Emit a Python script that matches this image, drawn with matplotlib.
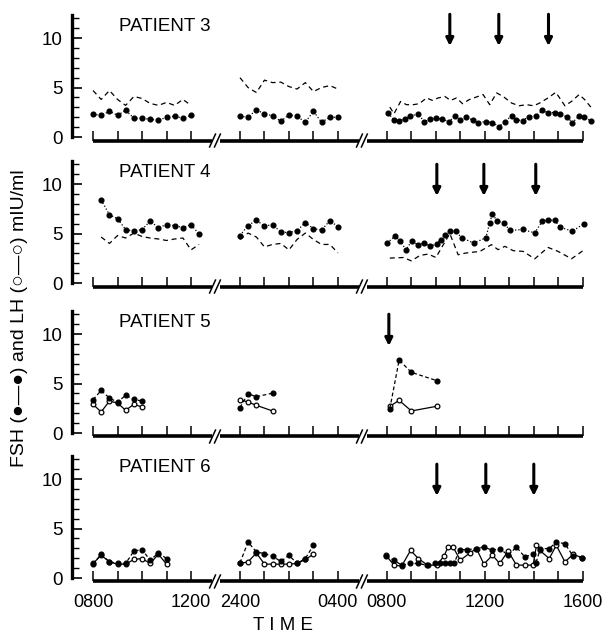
import matplotlib
matplotlib.use("Agg")
import matplotlib.pyplot as plt
from matplotlib.ticker import FixedLocator

plt.rcParams['font.family'] = ['Liberation Sans', 'DejaVu Sans']

# sampling times are clock hours: segment 1 = morning, segment 2 = night (24 = midnight),
# segment 3 = next morning/afternoon
# ---- patient 3 ----
p3_t1 = [8.0, 8.33, 8.67, 9.0, 9.33, 9.67, 10.0, 10.33, 10.67, 11.0, 11.33, 11.67, 12.0]
p3_fsh1 = [2.3, 2.2, 2.6, 2.2, 2.7, 1.9, 1.9, 1.8, 1.7, 2.0, 2.1, 1.9, 2.2]
p3_lh1 = [4.7, 3.8, 4.7, 3.8, 3.2, 4.1, 3.9, 3.4, 3.2, 3.5, 3.2, 3.8, 3.2]
p3_t2 = [24.0, 24.33, 24.67, 25.0, 25.33, 25.67, 26.0, 26.33, 26.67, 27.0, 27.33, 27.67, 28.0]
p3_fsh2 = [2.1, 2.0, 2.75, 2.35, 2.15, 1.6, 2.25, 2.1, 1.5, 2.6, 1.5, 2.0, 2.0]
p3_lh2 = [6.0, 5.0, 4.5, 5.75, 5.5, 5.55, 5.1, 4.85, 5.5, 4.6, 5.0, 5.2, 4.85]
p3_t3_fsh = [8.05, 8.29, 8.5, 8.73, 8.94, 9.28, 9.52, 9.78, 10.0, 10.27, 10.54, 10.78,
             10.98, 11.25, 11.5, 11.73, 12.04, 12.31, 12.58, 12.82, 13.09, 13.29, 13.54,
             13.81, 14.08, 14.35, 14.58, 14.86, 15.09, 15.36, 15.58, 15.85, 16.04, 16.32]
p3_fsh3 = [2.42, 1.73, 1.67, 1.8, 2.1, 2.35, 1.56, 1.8, 1.9, 1.8, 1.56, 2.14, 1.73, 2.0,
           1.73, 1.46, 1.56, 1.46, 1.05, 1.56, 2.14, 1.73, 1.67, 2.07, 2.14, 2.69, 2.48,
           2.48, 2.35, 2.0, 1.46, 2.14, 2.0, 1.67]
p3_t3_lh = [8.12, 8.29, 8.56, 8.8, 9.07, 9.32, 9.62, 9.86, 10.09, 10.37, 10.6, 10.84,
            11.09, 11.36, 11.66, 11.93, 12.2, 12.48, 12.75, 13.09, 13.4, 13.7, 14.0,
            14.24, 14.58, 14.9, 15.27, 15.54, 15.85, 16.08, 16.36]
p3_lh3 = [3.03, 2.35, 3.6, 3.27, 3.27, 3.37, 3.95, 3.7, 3.95, 4.1, 3.7, 3.95, 3.37, 3.78,
          4.05, 4.29, 3.27, 4.46, 4.1, 3.44, 3.16, 3.27, 3.16, 3.44, 3.95, 4.52, 3.16,
          3.6, 4.29, 3.78, 2.93]
p3_arrows = [10.57, 12.57, 14.6]

# ---- patient 4 ----
p4_t1 = [8.33, 8.67, 9.0, 9.33, 9.67, 10.0, 10.33, 10.67, 11.0, 11.33, 11.67, 12.0, 12.33]
p4_fsh1 = [8.4, 6.9, 6.5, 5.4, 5.25, 5.4, 6.25, 5.6, 5.9, 5.8, 5.6, 5.9, 4.95]
p4_lh1 = [4.65, 4.0, 4.8, 4.55, 5.05, 4.7, 4.55, 4.45, 4.3, 4.45, 4.55, 3.35, 3.9]
p4_t2 = [24.0, 24.33, 24.67, 25.0, 25.33, 25.67, 26.0, 26.33, 26.67, 27.0, 27.33, 27.67, 28.0]
p4_fsh2 = [4.8, 5.8, 6.35, 5.75, 5.9, 5.15, 5.1, 5.3, 6.1, 5.5, 5.35, 6.3, 5.7]
p4_lh2 = [4.4, 5.05, 4.65, 3.65, 3.9, 4.0, 3.35, 4.4, 5.05, 4.4, 3.9, 3.9, 3.05]
p4_t3_fsh = [8.01, 8.33, 8.53, 8.78, 9.03, 9.28, 9.52, 9.78, 10.03, 10.19, 10.37, 10.57,
             10.82, 11.05, 11.55, 12.04, 12.2, 12.31, 12.5, 12.78, 13.02, 13.54, 14.04,
             14.35, 14.58, 14.86, 15.06, 15.58, 16.04]
p4_fsh3 = [4.05, 4.73, 4.29, 3.37, 4.29, 3.81, 4.05, 3.71, 3.95, 4.39, 4.83, 5.24, 5.24,
           4.56, 4.05, 4.56, 6.09, 7.01, 6.26, 6.09, 5.31, 5.41, 5.07, 6.26, 6.36, 6.33,
           5.65, 5.24, 5.99]
p4_t3_lh = [8.12, 8.67, 9.0, 9.35, 9.69, 10.0, 10.57, 10.91, 11.22, 11.8, 12.27, 12.54,
            12.82, 13.16, 13.56, 14.04, 14.58, 14.99, 15.54, 16.01]
p4_lh3 = [2.52, 2.58, 2.24, 2.79, 2.93, 2.58, 5.0, 2.86, 3.03, 3.2, 3.88, 3.37, 3.71,
          3.27, 3.2, 2.45, 3.6, 3.2, 2.45, 3.27]
p4_arrows = [10.04, 11.96, 14.08]

# ---- patient 5 ----
p5_t1 = [8.0, 8.33, 8.67, 9.0, 9.33, 9.67, 10.0]
p5_fsh1 = [3.37, 4.3, 3.53, 3.13, 3.8, 3.4, 3.23]
p5_lh1 = [2.9, 2.13, 3.23, 3.03, 2.3, 2.9, 2.63]
p5_t2 = [24.0, 24.33, 24.67, 25.33]
p5_fsh2 = [2.57, 3.97, 3.67, 4.03]
p5_lh2 = [3.37, 3.13, 2.8, 2.23]
p5_t3 = [8.12, 8.5, 9.0, 10.03]
p5_fsh3 = [2.47, 7.37, 6.13, 5.3]
p5_lh3 = [2.7, 3.3, 2.23, 2.7]
p5_arrows = [8.08]

# ---- patient 6 ----
p6_t1 = [8.0, 8.33, 8.67, 9.0, 9.33, 9.67, 10.0, 10.33, 10.67, 11.0]
p6_fsh1 = [1.4, 2.4, 1.63, 1.47, 1.47, 2.73, 2.87, 1.8, 2.53, 1.97]
p6_lh1 = [1.47, 2.3, 1.63, 1.4, 1.4, 1.87, 1.97, 1.47, 2.4, 1.4]
p6_t2 = [24.0, 24.33, 24.67, 25.0, 25.33, 25.67, 26.0, 26.33, 26.67, 27.0]
p6_fsh2 = [1.53, 3.63, 2.63, 2.47, 2.2, 1.67, 2.3, 1.47, 1.97, 3.3]
p6_lh2 = [1.47, 1.63, 2.53, 1.4, 1.4, 1.4, 1.4, 1.47, 1.87, 2.4]
p6_t3_fsh = [7.96, 8.29, 8.6, 8.94, 9.28, 9.62, 9.96, 10.16, 10.37, 10.57, 10.73, 11.0,
             11.28, 11.63, 11.96, 12.31, 12.61, 12.95, 13.29, 13.63, 13.97, 14.08, 14.27,
             14.63, 14.92, 15.27, 15.61, 15.95]
p6_fsh3 = [2.2, 1.8, 1.3, 1.47, 1.47, 1.3, 1.47, 1.47, 1.47, 1.47, 1.47, 2.87, 2.87, 2.97,
           3.13, 2.8, 2.97, 2.3, 3.13, 2.13, 2.4, 1.47, 2.97, 2.97, 3.63, 3.47, 2.2, 2.07]
p6_t3_lh = [7.96, 8.29, 8.6, 8.97, 9.28, 9.66, 10.03, 10.33, 10.5, 10.7, 11.0, 11.39,
            11.66, 11.96, 12.31, 12.61, 12.95, 13.29, 13.63, 13.97, 14.11, 14.24, 14.63,
            14.92, 15.27, 15.61, 15.95]
p6_lh3 = [2.3, 1.3, 1.2, 2.8, 1.97, 1.3, 1.3, 2.2, 3.13, 3.13, 1.8, 2.53, 2.97, 1.4, 2.3,
          1.47, 2.73, 1.3, 1.3, 1.3, 3.3, 2.8, 1.97, 3.3, 1.63, 2.4, 2.07]
p6_arrows = [10.04, 12.04, 14.0]

tick_labels = ['0800', '1200', '2400', '0400', '0800', '1200', '1600']
tick_label_pos = [0, 4, 6, 10, 12, 16, 20]

# x position on the broken axis: 0800 -> 0, 2400 -> 6, next 0800 -> 12
seg_offset = {1: -8, 2: -18, 3: 4}
def pos(hours, seg):
    return [h + seg_offset[seg] for h in hours]

MS = 3.4

fig = plt.figure(figsize=(6.02, 6.35), dpi=100)
bottoms = [0.7787, 0.5488, 0.3126, 0.0843]
axes = [fig.add_axes([0.1196, b, 0.8688, 0.1972]) for b in bottoms]

def draw_axes(ax, title, arrows, arrow_top, last):
    ax.set_xlim(-0.86, 20.5)
    ax.set_ylim(-0.35, 12.3)
    for s in ['top', 'right', 'bottom']:
        ax.spines[s].set_visible(False)
    ax.spines['left'].set_bounds(0, 12.3)
    ax.spines['left'].set_linewidth(2.4)
    ax.yaxis.set_major_locator(FixedLocator([0, 5, 10]))
    ax.yaxis.set_minor_locator(FixedLocator([1, 2, 3, 4, 6, 7, 8, 9, 11, 12]))
    ax.tick_params(axis='y', which='major', direction='in', length=7, width=1.2,
                   labelsize=13.5, pad=7)
    ax.tick_params(axis='y', which='minor', direction='in', length=5, width=1.0)
    xt = [0, 1, 2, 3, 4, 6, 7, 8, 9, 10, 12, 13, 14, 15, 16, 17, 18, 19, 20]
    ax.set_xticks(xt)
    if last:
        lab = dict(zip(tick_label_pos, tick_labels))
        ax.set_xticklabels([lab.get(v, '') for v in xt])
    else:
        ax.set_xticklabels([''] * len(xt))
    ax.tick_params(axis='x', direction='in', length=7, width=1.1, labelsize=13, pad=9)
    # broken x axis line
    yb = -0.35
    for a, b in [(0, 4.85), (5.2, 10.85), (11.2, 20)]:
        ax.plot([a, b], [yb, yb], color='k', lw=2.6, clip_on=False, solid_capstyle='butt')
    for br in [5.0, 11.0]:
        for dx in [-0.12, 0.08]:
            ax.plot([br + dx - 0.12, br + dx + 0.12], [yb - 0.65, yb + 0.65], color='k',
                    lw=1.1, clip_on=False)
    ax.text(1.05, 11.2, title, fontsize=13.5, va='center', ha='left')
    for a in arrows:
        x = a + 4
        ax.annotate('', xy=(x, arrow_top - 3.2), xytext=(x, arrow_top),
                    arrowprops=dict(arrowstyle='-|>', color='k', lw=2.2, mutation_scale=11,
                                    shrinkA=0, shrinkB=0),
                    annotation_clip=False)

# panels 1-2: FSH dots + dotted line, LH dashed line
def plot_p12(ax, t1, f1, l1, t2, f2, l2, t3f, f3, t3l, l3):
    for t, f, seg in [(t1, f1, 1), (t2, f2, 2), (t3f, f3, 3)]:
        ax.plot(pos(t, seg), f, ':', color='k', lw=0.9, marker='o', ms=MS,
                markerfacecolor='k', markeredgecolor='k')
    for t, l, seg in [(t1, l1, 1), (t2, l2, 2), (t3l, l3, 3)]:
        ax.plot(pos(t, seg), l, color='k', lw=0.9, dashes=(4, 3))

# panels 3-4: FSH filled dots + dashed line, LH open circles + solid line
def plot_p34(ax, segs):
    for t_f, f, t_l, l, seg in segs:
        ax.plot(pos(t_l, seg), l, '-', color='k', lw=0.9, marker='o', ms=MS,
                markerfacecolor='white', markeredgecolor='k', markeredgewidth=0.9)
        ax.plot(pos(t_f, seg), f, color='k', lw=0.9, dashes=(3, 2), marker='o', ms=MS,
                markerfacecolor='k', markeredgecolor='k')

plot_p12(axes[0], p3_t1, p3_fsh1, p3_lh1, p3_t2, p3_fsh2, p3_lh2,
         p3_t3_fsh, p3_fsh3, p3_t3_lh, p3_lh3)
plot_p12(axes[1], p4_t1, p4_fsh1, p4_lh1, p4_t2, p4_fsh2, p4_lh2,
         p4_t3_fsh, p4_fsh3, p4_t3_lh, p4_lh3)
plot_p34(axes[2], [(p5_t1, p5_fsh1, p5_t1, p5_lh1, 1),
                   (p5_t2, p5_fsh2, p5_t2, p5_lh2, 2),
                   (p5_t3, p5_fsh3, p5_t3, p5_lh3, 3)])
plot_p34(axes[3], [(p6_t1, p6_fsh1, p6_t1, p6_lh1, 1),
                   (p6_t2, p6_fsh2, p6_t2, p6_lh2, 2),
                   (p6_t3_fsh, p6_fsh3, p6_t3_lh, p6_lh3, 3)])

draw_axes(axes[0], 'PATIENT 3', p3_arrows, 12.4, False)
draw_axes(axes[1], 'PATIENT 4', p4_arrows, 12.0, False)
draw_axes(axes[2], 'PATIENT 5', p5_arrows, 12.0, False)
draw_axes(axes[3], 'PATIENT 6', p6_arrows, 11.5, True)

fig.text(20 / 602, 1 - 318 / 635, 'FSH (\u25CF\u2014\u25CF) and LH (\u25CB\u2014\u25CB) mIU/ml',
         rotation=90, va='center', ha='center', fontsize=14)
fig.text(283 / 602, 10 / 635, 'T I M E', va='center', ha='center', fontsize=13.5)

fig.savefig('out.png', dpi=100)
plt.close(fig)
